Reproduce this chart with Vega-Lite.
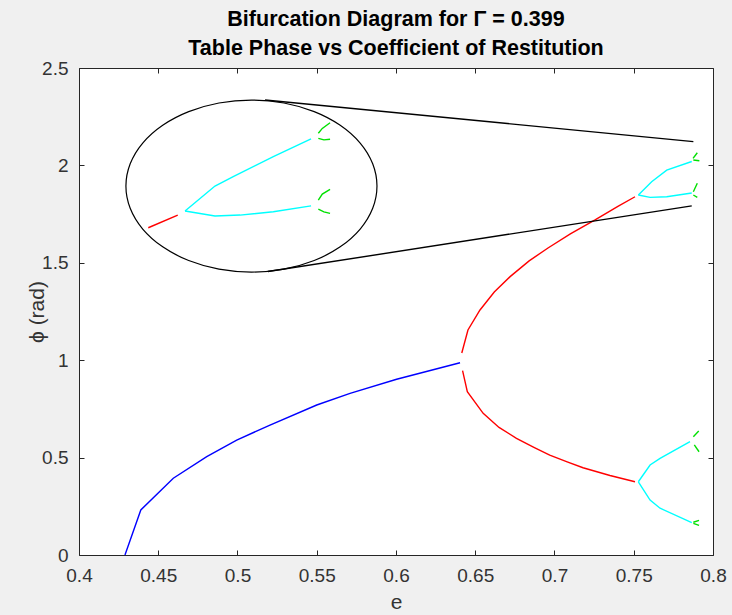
{
  "$schema": "https://vega.github.io/schema/vega-lite/v6.json",
  "width": 634,
  "height": 487,
  "autosize": "none",
  "padding": {"left": 79, "top": 68, "right": 19, "bottom": 60},
  "background": "#f0f0f0",
  "config": {
    "view": {"fill": "white", "stroke": "#262626", "strokeWidth": 1},
    "font": "Liberation Sans",
    "axis": {"grid": false, "domain": false, "tickColor": "#262626", "tickSize": -5, "labelColor": "#333333", "labelFontSize": 19, "titleColor": "#333333", "titleFontSize": 21, "titleFontWeight": "normal", "labelFlush": false, "labelOverlap": false}
  },
  "title": {
    "text": ["Bifurcation Diagram for Γ = 0.399", "Table Phase vs Coefficient of Restitution"],
    "fontSize": 21.5, "fontWeight": "bold", "color": "#000000", "lineHeight": 29, "offset": 0, "anchor": "middle", "font": "Liberation Sans"
  },
  "datasets": {
    "curves": [
      {"s":"b","c":"blue","o":0,"e":0.429,"y":0},
      {"s":"b","c":"blue","o":1,"e":0.439,"y":0.231},
      {"s":"b","c":"blue","o":2,"e":0.4595,"y":0.394},
      {"s":"b","c":"blue","o":3,"e":0.4806,"y":0.505},
      {"s":"b","c":"blue","o":4,"e":0.4995,"y":0.59},
      {"s":"b","c":"blue","o":5,"e":0.5205,"y":0.667},
      {"s":"b","c":"blue","o":6,"e":0.55,"y":0.77},
      {"s":"b","c":"blue","o":7,"e":0.571,"y":0.83},
      {"s":"b","c":"blue","o":8,"e":0.6004,"y":0.902},
      {"s":"b","c":"blue","o":9,"e":0.6404,"y":0.987},
      {"s":"r1","c":"red","o":0,"e":0.6415,"y":1.037},
      {"s":"r1","c":"red","o":1,"e":0.6454,"y":1.155},
      {"s":"r1","c":"red","o":2,"e":0.653,"y":1.258},
      {"s":"r1","c":"red","o":3,"e":0.662,"y":1.35},
      {"s":"r1","c":"red","o":4,"e":0.672,"y":1.429},
      {"s":"r1","c":"red","o":5,"e":0.684,"y":1.51},
      {"s":"r1","c":"red","o":6,"e":0.6959,"y":1.576},
      {"s":"r1","c":"red","o":7,"e":0.71,"y":1.648},
      {"s":"r1","c":"red","o":8,"e":0.7256,"y":1.72},
      {"s":"r1","c":"red","o":9,"e":0.74,"y":1.79},
      {"s":"r1","c":"red","o":10,"e":0.7508,"y":1.839},
      {"s":"r2","c":"red","o":0,"e":0.642,"y":0.946},
      {"s":"r2","c":"red","o":1,"e":0.645,"y":0.838},
      {"s":"r2","c":"red","o":2,"e":0.655,"y":0.727},
      {"s":"r2","c":"red","o":3,"e":0.665,"y":0.655},
      {"s":"r2","c":"red","o":4,"e":0.676,"y":0.599},
      {"s":"r2","c":"red","o":5,"e":0.687,"y":0.553},
      {"s":"r2","c":"red","o":6,"e":0.697,"y":0.513},
      {"s":"r2","c":"red","o":7,"e":0.708,"y":0.478},
      {"s":"r2","c":"red","o":8,"e":0.718,"y":0.448},
      {"s":"r2","c":"red","o":9,"e":0.735,"y":0.408},
      {"s":"r2","c":"red","o":10,"e":0.7508,"y":0.376},
      {"s":"c1","c":"cyan","o":0,"e":0.7529,"y":1.848},
      {"s":"c1","c":"cyan","o":1,"e":0.7613,"y":1.916},
      {"s":"c1","c":"cyan","o":2,"e":0.7708,"y":1.976},
      {"s":"c1","c":"cyan","o":3,"e":0.7866,"y":2.02},
      {"s":"c2","c":"cyan","o":0,"e":0.7529,"y":1.848},
      {"s":"c2","c":"cyan","o":1,"e":0.7603,"y":1.836},
      {"s":"c2","c":"cyan","o":2,"e":0.7708,"y":1.839},
      {"s":"c2","c":"cyan","o":3,"e":0.7866,"y":1.858},
      {"s":"c3","c":"cyan","o":0,"e":0.7529,"y":0.376},
      {"s":"c3","c":"cyan","o":1,"e":0.7603,"y":0.462},
      {"s":"c3","c":"cyan","o":2,"e":0.7666,"y":0.496},
      {"s":"c3","c":"cyan","o":3,"e":0.7855,"y":0.582},
      {"s":"c4","c":"cyan","o":0,"e":0.7529,"y":0.376},
      {"s":"c4","c":"cyan","o":1,"e":0.7603,"y":0.282},
      {"s":"c4","c":"cyan","o":2,"e":0.7666,"y":0.24},
      {"s":"c4","c":"cyan","o":3,"e":0.7866,"y":0.166},
      {"s":"g1","c":"green","o":0,"e":0.7874,"y":2.036},
      {"s":"g1","c":"green","o":1,"e":0.7901,"y":2.065},
      {"s":"g2","c":"green","o":0,"e":0.7876,"y":2.028},
      {"s":"g2","c":"green","o":1,"e":0.7914,"y":2.024},
      {"s":"g3","c":"green","o":0,"e":0.7876,"y":1.865},
      {"s":"g3","c":"green","o":1,"e":0.7901,"y":1.908},
      {"s":"g4","c":"green","o":0,"e":0.7876,"y":1.848},
      {"s":"g4","c":"green","o":1,"e":0.7901,"y":1.836},
      {"s":"g5","c":"green","o":0,"e":0.7876,"y":0.607},
      {"s":"g5","c":"green","o":1,"e":0.791,"y":0.637},
      {"s":"g6","c":"green","o":0,"e":0.7882,"y":0.565},
      {"s":"g6","c":"green","o":1,"e":0.7912,"y":0.53},
      {"s":"g7","c":"green","o":0,"e":0.7876,"y":0.168},
      {"s":"g7","c":"green","o":1,"e":0.7912,"y":0.178},
      {"s":"g8","c":"green","o":0,"e":0.7876,"y":0.162},
      {"s":"g8","c":"green","o":1,"e":0.7912,"y":0.152},
      {"s":"ir","c":"red","o":0,"e":0.4437,"y":1.68},
      {"s":"ir","c":"red","o":1,"e":0.4623,"y":1.745},
      {"s":"ic1","c":"cyan","o":0,"e":0.4669,"y":1.766},
      {"s":"ic1","c":"cyan","o":1,"e":0.4858,"y":1.894},
      {"s":"ic1","c":"cyan","o":2,"e":0.4973,"y":1.942},
      {"s":"ic1","c":"cyan","o":3,"e":0.5226,"y":2.045},
      {"s":"ic1","c":"cyan","o":4,"e":0.5464,"y":2.136},
      {"s":"ic2","c":"cyan","o":0,"e":0.4669,"y":1.766},
      {"s":"ic2","c":"cyan","o":1,"e":0.4858,"y":1.74},
      {"s":"ic2","c":"cyan","o":2,"e":0.5016,"y":1.745},
      {"s":"ic2","c":"cyan","o":3,"e":0.5226,"y":1.762},
      {"s":"ic2","c":"cyan","o":4,"e":0.5464,"y":1.792},
      {"s":"ig1","c":"green","o":0,"e":0.551,"y":2.165},
      {"s":"ig1","c":"green","o":1,"e":0.5535,"y":2.19},
      {"s":"ig1","c":"green","o":2,"e":0.5584,"y":2.219},
      {"s":"ig2","c":"green","o":0,"e":0.551,"y":2.139},
      {"s":"ig2","c":"green","o":1,"e":0.5545,"y":2.131},
      {"s":"ig2","c":"green","o":2,"e":0.5584,"y":2.134},
      {"s":"ig3","c":"green","o":0,"e":0.551,"y":1.822},
      {"s":"ig3","c":"green","o":1,"e":0.5535,"y":1.853},
      {"s":"ig3","c":"green","o":2,"e":0.5584,"y":1.877},
      {"s":"ig4","c":"green","o":0,"e":0.551,"y":1.775},
      {"s":"ig4","c":"green","o":1,"e":0.5545,"y":1.761},
      {"s":"ig4","c":"green","o":2,"e":0.5584,"y":1.754},
      {"s":"t1","c":"black","o":0,"e":0.5174,"y":2.336},
      {"s":"t1","c":"black","o":1,"e":0.7876,"y":2.122},
      {"s":"t2","c":"black","o":0,"e":0.5192,"y":1.455},
      {"s":"t2","c":"black","o":1,"e":0.7866,"y":1.792}
    ],
    "ellipse": [
      {"o":0,"e":0.588,"y":1.894},
      {"o":1,"e":0.5853,"y":2.0083},
      {"o":2,"e":0.5774,"y":2.1148},
      {"o":3,"e":0.5648,"y":2.2062},
      {"o":4,"e":0.5484,"y":2.2763},
      {"o":5,"e":0.5293,"y":2.3205},
      {"o":6,"e":0.5088,"y":2.3355},
      {"o":7,"e":0.4883,"y":2.3205},
      {"o":8,"e":0.4692,"y":2.2763},
      {"o":9,"e":0.4528,"y":2.2062},
      {"o":10,"e":0.4402,"y":2.1148},
      {"o":11,"e":0.4323,"y":2.0083},
      {"o":12,"e":0.4296,"y":1.894},
      {"o":13,"e":0.4323,"y":1.7797},
      {"o":14,"e":0.4402,"y":1.6732},
      {"o":15,"e":0.4528,"y":1.5818},
      {"o":16,"e":0.4692,"y":1.5117},
      {"o":17,"e":0.4883,"y":1.4675},
      {"o":18,"e":0.5088,"y":1.4525},
      {"o":19,"e":0.5293,"y":1.4675},
      {"o":20,"e":0.5484,"y":1.5117},
      {"o":21,"e":0.5648,"y":1.5818},
      {"o":22,"e":0.5774,"y":1.6732},
      {"o":23,"e":0.5853,"y":1.7797}
    ]
  },
  "layer": [
    {
      "data": {"name": "curves"},
      "mark": {"type": "line", "strokeWidth": 1.4},
      "encoding": {
        "x": {"field": "e", "type": "quantitative", "scale": {"domain": [0.4, 0.8], "nice": false, "zero": false},
          "axis": {"orient": "bottom", "title": "e", "values": [0.4, 0.45, 0.5, 0.55, 0.6, 0.65, 0.7, 0.75, 0.8], "format": "~g", "labelPadding": 16.5, "titlePadding": 6}},
        "y": {"field": "y", "type": "quantitative", "scale": {"domain": [0, 2.5], "nice": false},
          "axis": {"orient": "left", "title": "ϕ (rad)", "values": [0, 0.5, 1, 1.5, 2, 2.5], "format": "~g", "labelPadding": 16, "titlePadding": -6}},
        "color": {"field": "c", "type": "nominal", "scale": {"domain": ["blue", "red", "cyan", "green", "black"], "range": ["#0000ff", "#ff0000", "#00ffff", "#00e000", "#000000"]}, "legend": null},
        "detail": {"field": "s"},
        "order": {"field": "o", "type": "quantitative"}
      }
    },
    {
      "data": {"name": "ellipse"},
      "mark": {"type": "line", "interpolate": "cardinal-closed", "color": "#000000", "strokeWidth": 1.2},
      "encoding": {
        "x": {"field": "e", "type": "quantitative", "axis": {"orient": "top", "title": null, "labels": false, "values": [0.4, 0.45, 0.5, 0.55, 0.6, 0.65, 0.7, 0.75, 0.8]}},
        "y": {"field": "y", "type": "quantitative", "axis": {"orient": "right", "title": null, "labels": false, "values": [0, 0.5, 1, 1.5, 2, 2.5]}},
        "order": {"field": "o", "type": "quantitative"}
      }
    }
  ],
  "resolve": {"axis": {"x": "independent", "y": "independent"}}
}
